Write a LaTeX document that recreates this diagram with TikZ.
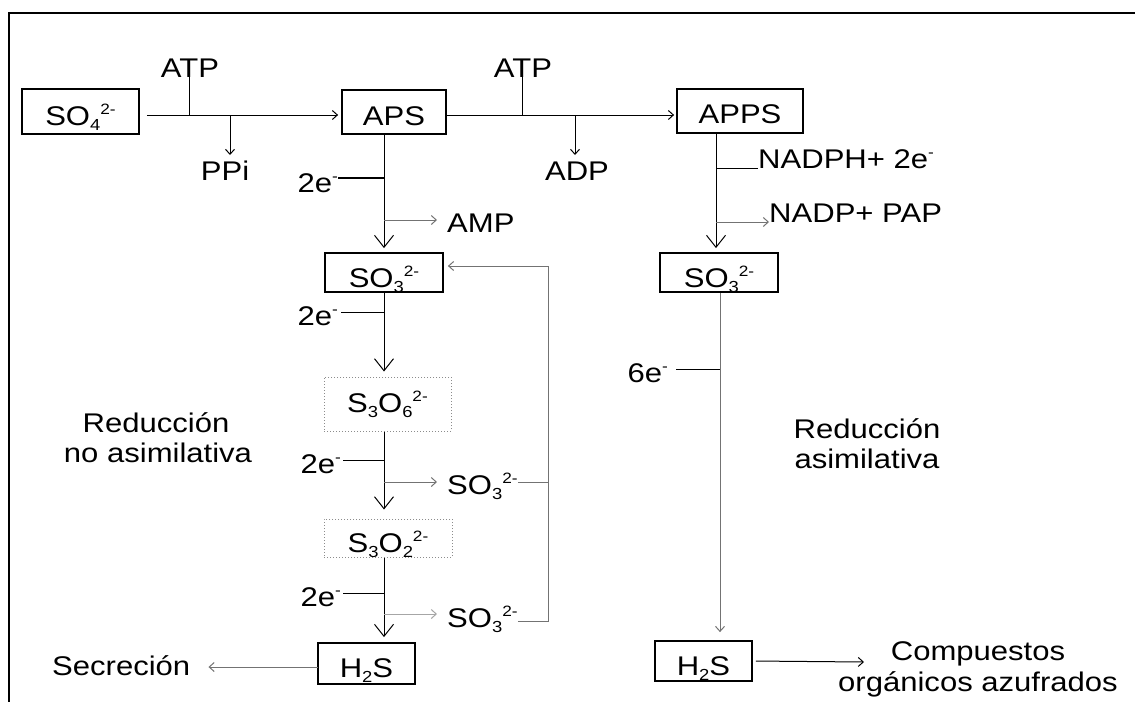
\documentclass[tikz,border=0pt]{standalone}
\usepackage{fontspec}
\setmainfont{Liberation Sans}[FakeStretch=1.15]
\usetikzlibrary{arrows.meta}
\newcommand\chsub[1]{\raisebox{-5pt}{\fontsize{16}{16}\selectfont #1}}
\newcommand\chsup[1]{\raisebox{10.5pt}{\fontsize{15}{15}\selectfont #1}}
\begin{document}
\begin{tikzpicture}[x=1pt,y=-1pt,
  every node/.style={inner sep=0pt, font=\fontsize{27}{32}\selectfont},
  box/.style={draw, line width=1.8pt},
  dbox/.style={draw=black!45, dotted, line width=1pt},
  ln/.style={line width=1pt},
  eln/.style={line width=1.4pt},
  gln/.style={line width=1pt, draw=black!55},
  lgln/.style={line width=1pt, draw=black!35},
  big/.style={-{Straight Barb[length=12pt,width=19pt]}},
  sm/.style={-{Straight Barb[length=5pt,width=9pt]}},
]
\useasboundingbox (0,0) rectangle (1135,702);
% frame
\draw[line width=2pt] (1135,13) -- (9,13) -- (9,702);

% boxes
\node[box, minimum width=117pt, text height=36pt, text depth=9pt] (so4) at (80.5,111.5) {SO\chsub{4}\chsup{2-}};
\node[box, minimum width=104pt, text height=35pt, text depth=9pt] (aps) at (394,112) {APS};
\node[box, minimum width=126pt, text height=34pt, text depth=10pt] (apps) at (740,111) {APPS};
\node[box, minimum width=118pt, text height=34pt, text depth=5pt] (so3a) at (384,272.5) {SO\chsub{3}\chsup{2-}};
\node[dbox, minimum width=127pt, text height=35pt, text depth=19pt] (s3o6) at (387.5,404) {S\chsub{3}O\chsub{6}\chsup{2-}};
\node[dbox, minimum width=128pt, text height=33pt, text depth=5pt] (s3o2) at (388,538) {S\chsub{3}O\chsub{2}\chsup{2-}};
\node[box, minimum width=97pt, text height=34pt, text depth=7pt] (h2sa) at (366.5,663.5) {H\chsub{2}S};
\node[box, minimum width=118pt, text height=34pt, text depth=5pt] (so3b) at (719,272.5) {SO\chsub{3}\chsup{2-}};
\node[box, minimum width=97pt, text height=34pt, text depth=6pt] (h2sb) at (703.5,661) {H\chsub{2}S};

% labels
\node[anchor=base] (atp1) at (190,77) {ATP};
\node[anchor=base] (atp2) at (523,77) {ATP};
\node[anchor=base] (ppi) at (225,180) {PPi};
\node[anchor=base] (adp) at (577,180) {ADP};
\node[anchor=base east] (e1) at (338,192) {2e\chsup{-}};
\node[anchor=base west] (amp) at (447,232) {AMP};
\node[anchor=base west] (nadph) at (758,168) {NADPH+ 2e\chsup{-}};
\node[anchor=base west] (nadp) at (769,222) {NADP+ PAP};
\node[anchor=base east] (e6) at (668,382) {6e\chsup{-}};
\node[anchor=base east] (e2) at (338,325) {2e\chsup{-}};
\node[anchor=base east] (e3) at (341,473) {2e\chsup{-}};
\node[anchor=base east] (e4) at (341,606) {2e\chsup{-}};
\node[anchor=base west] (so3c) at (447,494) {SO\chsub{3}\chsup{2-}};
\node[anchor=base west] (so3d) at (447,627) {SO\chsub{3}\chsup{2-}};
\node[anchor=base west] (secr) at (52,675) {Secreción};
\node[anchor=base] (rn1) at (156,432) {Reducción};
\node[anchor=base] (rn2) at (158,462) {no asimilativa};
\node[anchor=base] (ra1) at (867,438) {Reducción};
\node[anchor=base] (ra2) at (867,468) {asimilativa};
\node[anchor=base] (cp1) at (978,660) {Compuestos};
\node[anchor=base] (cp2) at (978,691) {orgánicos azufrados};

% junction coordinates
\coordinate (r1) at (146,115);
\coordinate (j1) at (189,115);
\coordinate (j2) at (230,115);
\coordinate (j3) at (522,115);
\coordinate (j4) at (575,115);
\coordinate (k1) at (384,178);
\coordinate (k2) at (384,220);
\coordinate (m1) at (716,168);
\coordinate (m2) at (716,222);
\coordinate (m3) at (720,369);
\coordinate (ce) at (864,662);
\coordinate (k3) at (384,312);
\coordinate (k4) at (384,460);
\coordinate (k5) at (384,482);
\coordinate (k6) at (384,593);
\coordinate (k7) at (384,614);
\coordinate (f1) at (548,482);
\coordinate (f2) at (548,621);
\coordinate (f3) at (548,266);
\coordinate (s1) at (318,667);

% top row
\draw[ln, sm, shorten <=7pt, shorten >=3pt] (so4.east |- r1) -- (aps.west |- r1);
\draw[ln] (j1) -- ++(0,-40);
\draw[ln, sm] (j2) -- ++(0,40);
\draw[ln, sm, shorten >=2pt] (aps.east |- r1) -- (apps.west |- r1);
\draw[ln] (j3) -- ++(0,-40);
\draw[ln, sm] (j4) -- ++(0,40);

% APS branch
\draw[ln, big, shorten >=4pt] (so3a.north |- aps.south) -- (so3a.north);
\draw[eln] (k1 -| e1.east) -- (k1);
\draw[gln, sm, shorten >=10pt] (k2) -- (k2 -| amp.west);

% APPS branch
\draw[ln, big, shorten >=4pt] (apps.south -| m1) -- (so3b.north -| m1);
\draw[ln] (m1) -- (m1 -| nadph.west);
\draw[gln, sm] (m2) -- (m2 -| nadp.west);
\draw[gln, sm, shorten >=8pt] (so3b.south -| m3) -- (h2sb.north -| m3);
\draw[ln, shorten <=8pt] (m3 -| e6.east) -- (m3);
\draw[ln, sm, shorten <=3pt] (h2sb.east) -- (ce);

% dissimilatory chain
\draw[ln, big, shorten >=5pt] (so3a.south) -- (so3a.south |- s3o6.north);
\draw[ln, shorten <=3pt] (k3 -| e2.east) -- (k3);
\draw[ln, big, shorten >=9pt] (so3a.south |- s3o6.south) -- (so3a.south |- s3o2.north);
\draw[ln, shorten <=2pt] (k4 -| e3.east) -- (k4);
\draw[gln, sm, shorten >=10pt] (k5) -- (k5 -| so3c.west);
\draw[ln, big, shorten >=5pt] (so3a.south |- s3o2.south) -- (so3a.south |- h2sa.north);
\draw[ln, shorten <=2pt] (k6 -| e4.east) -- (k6);
\draw[lgln, sm, shorten >=10pt] (k7) -- (k7 -| so3d.west);

% feedback
\draw[gln] (so3c.east |- f1) -- (f1);
\draw[gln, sm, shorten >=4pt] (so3d.east |- f2) -- (f2) -- (f3) -- (f3 -| so3a.east);

% secretion
\draw[gln, sm, shorten >=18pt] (s1) -- (s1 -| secr.east);
\end{tikzpicture}
\end{document}
